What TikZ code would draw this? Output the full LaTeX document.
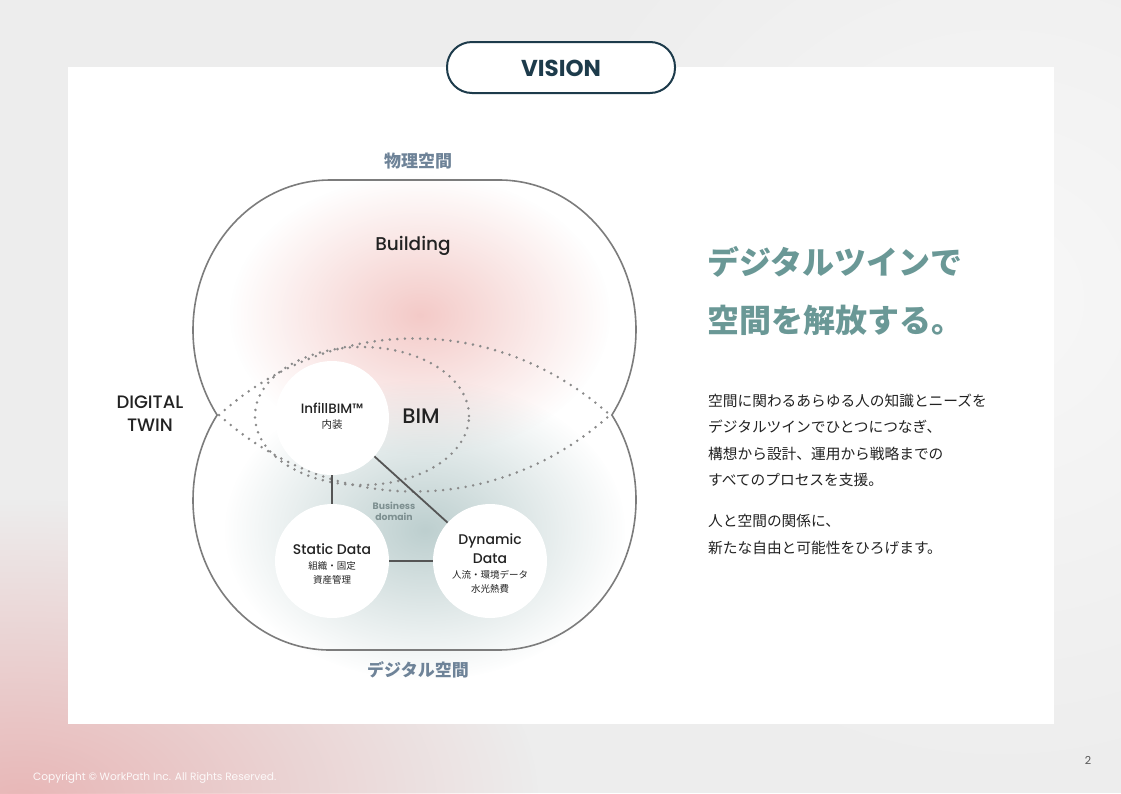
\documentclass[tikz,border=0pt]{standalone}
\usepackage{fontspec}
\setmainfont{Poppins}
\newfontfamily\popmed{Poppins}[UprightFont={* Medium}]
\newfontfamily\jp{Noto Sans CJK JP}
\usetikzlibrary{fadings}
\definecolor{pagec}{HTML}{EDEDED}
\definecolor{pagepink}{HTML}{E8B7B7}
\definecolor{navyc}{HTML}{1D3B4B}
\definecolor{outlinec}{HTML}{7C7C7C}
\definecolor{dotc}{HTML}{8A8A8A}
\definecolor{linkc}{HTML}{555555}
\definecolor{textc}{HTML}{222222}
\definecolor{slatec}{HTML}{6E8398}
\definecolor{tealc}{HTML}{6A9896}
\definecolor{glowpink}{HTML}{F1BDBA}
\definecolor{glowteal}{HTML}{BDCFCF}
\definecolor{busc}{HTML}{7D8F90}
\tikzfading[name=glowfade, inner color=transparent!0, outer color=transparent!100]
\begin{document}
\begin{tikzpicture}[x=1pt,y=1pt,
  outline/.style={draw=outlinec, line width=1.6pt},
  dots/.style={draw=dotc, line width=2.8pt, line cap=round, dash pattern=on 0pt off 7.6pt},
  bubble/.style={circle, fill=white, minimum size=114pt, inner sep=0pt},
  link/.style={draw=linkc, line width=1.8pt},
  lbl/.style={text=textc, align=center, inner sep=0pt},
  space/.style={font=\jp\bfseries\fontsize{17}{20}\selectfont, text=slatec, inner sep=0pt},
  headline/.style={font=\jp\bfseries\fontsize{32}{36}\selectfont, text=tealc, inner sep=0pt, anchor=base west},
  body/.style={font=\jp\fontsize{14.7}{18}\selectfont, text=textc, inner sep=0pt, anchor=base west}]
\useasboundingbox (0,0) rectangle (1121,-793);
% page background
\fill[pagec] (0,0) rectangle (1121,-793);
\fill[white, opacity=0.6, path fading=glowfade] (1000,-300) ellipse [x radius=500, y radius=500];
\fill[pagepink, path fading=glowfade] (20,-800) ellipse [x radius=520, y radius=300];
% card
\fill[white] (68,-67) rectangle (1054,-724);
% glows
\fill[glowpink, opacity=0.8, path fading=glowfade] (420,-315) ellipse [x radius=190, y radius=140];
\fill[glowteal, path fading=glowfade] (425,-530) ellipse [x radius=200, y radius=150];
% outer outline
\draw[outline] (330,-330) ++(214.52:137 and 150)
  arc[start angle=214.52, end angle=90, x radius=137, y radius=150] -- (499,-180)
  arc[start angle=90, end angle=-34.52, x radius=137, y radius=150]
  arc[start angle=34.52, end angle=-90, x radius=137, y radius=150] -- (330,-650)
  arc[start angle=270, end angle=145.48, x radius=137, y radius=150] -- cycle;
% dotted lens and ellipse
\coordinate (pL) at (219,-415);
\coordinate (pR) at (610,-415);
\draw[dots] (pL) to[bend left=42] (pR) to[bend left=42] (pL);
\draw[dots] (362,-416) ellipse [x radius=107, y radius=69];
% bubbles
\node[bubble] (infill) at (332,-418) {};
\node[bubble] (static) at (332,-561) {};
\node[bubble] (dynamic) at (490,-561) {};
\draw[link] (infill) -- (static);
\draw[link] (infill) -- (dynamic);
\draw[link] (static) -- (dynamic);
% labels
\node[space] (phys) at (418,-161) {物理空間};
\node[space] (digi) at (418,-670) {デジタル空間};
\node[lbl, font=\popmed\fontsize{18.5}{22}\selectfont] (building) at (413,-246) {Building};
\node[lbl, font=\popmed\fontsize{18}{23}\selectfont] (dtwin) at (150,-414) {DIGITAL\\TWIN};
\node[lbl, font=\popmed\fontsize{21}{24}\selectfont] (bim) at (421,-416) {BIM};
\node[lbl, font=\popmed\fontsize{13.5}{16}\selectfont] (infillt) at (332,-408) {InfillBIM™};
\node[lbl, font=\jp\fontsize{10.5}{13}\selectfont] (infillj) at (332,-425) {内装};
\node[lbl, font=\bfseries\fontsize{9.3}{11}\selectfont, text=busc] (bus) at (394,-511) {Business\\domain};
\node[lbl, font=\popmed\fontsize{14}{17}\selectfont] (statict) at (332,-549) {Static Data};
\node[lbl, font=\jp\fontsize{9.5}{13.5}\selectfont] (staticj) at (332,-573) {組織・固定\\資産管理};
\node[lbl, font=\popmed\fontsize{14}{19}\selectfont] (dynt) at (490,-549) {Dynamic\\Data};
\node[lbl, font=\jp\fontsize{9.5}{13.5}\selectfont] (dynj) at (490,-582) {人流・環境データ\\水光熱費};
% vision pill
\draw[draw=navyc, line width=2pt, fill=white, rounded corners=25pt] (447,-42) rectangle (675,-93);
\node[lbl, font=\bfseries\fontsize{23}{26}\selectfont, text=navyc] (vision) at (561,-68) {VISION};
% headline
\node[headline] (h1) at (707,-274) {デジタルツインで};
\node[headline] (h2) at (707,-332) {空間を解放する。};
% body
\node[body] (b1) at (708,-406.5) {空間に関わるあらゆる人の知識とニーズを};
\node[body] (b2) at (708,-432.8) {デジタルツインでひとつにつなぎ、};
\node[body] (b3) at (708,-459) {構想から設計、運用から戦略までの};
\node[body] (b4) at (708,-485.3) {すべてのプロセスを支援。};
\node[body] (b5) at (708,-526.5) {人と空間の関係に、};
\node[body] (b6) at (708,-553) {新たな自由と可能性をひろげます。};
% footer
\node[anchor=base west, inner sep=0pt, font=\fontsize{10.6}{12}\selectfont, text=white!92!pagepink] (copy) at (33,-780) {Copyright © WorkPath Inc. All Rights Reserved.};
\node[inner sep=0pt, font=\fontsize{11}{13}\selectfont, text=linkc] (pg) at (1088,-760) {2};
\end{tikzpicture}
\end{document}
